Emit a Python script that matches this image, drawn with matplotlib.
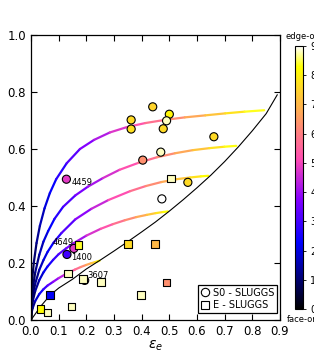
import numpy as np
import matplotlib
matplotlib.use("Agg")
import matplotlib.pyplot as plt
from matplotlib.collections import LineCollection
from matplotlib.colors import Normalize
from matplotlib.cm import ScalarMappable
from matplotlib.lines import Line2D

# inclination tracks (eps, lambda, inclination)
curve_eps = [
    [0, .002, .005, .010, .020, .032, .049, .068, .091, .129, .177, .228, .285, .347, .413, .483, .556, .630, .702, .772, .843],
    [0, .002, .006, .015, .030, .045, .062, .085, .116, .160, .206, .260, .320, .387, .455, .520, .585, .645, .699, .742],
    [0, .002, .006, .015, .030, .045, .060, .082, .110, .160, .218, .280, .358, .415, .471, .526, .575, .614, .641],
    [0, .002, .006, .015, .030, .045, .060, .080, .100, .128, .155, .200, .252, .295, .339, .380, .419, .451, .478, .495],
    [0, .002, .006, .015, .030, .045, .060, .080, .100, .120, .138, .159, .180, .199, .217, .231, .241, .248],
]
curve_lam = [
    [0, .100, .150, .200, .270, .330, .392, .445, .494, .550, .600, .632, .658, .677, .691, .702, .711, .718, .725, .731, .736],
    [0, .065, .107, .166, .229, .275, .312, .355, .397, .437, .468, .498, .527, .551, .571, .585, .596, .603, .608, .611],
    [0, .047, .080, .127, .176, .210, .239, .272, .305, .353, .390, .421, .452, .470, .484, .494, .500, .504, .506],
    [0, .038, .065, .101, .140, .167, .188, .211, .231, .252, .270, .296, .320, .336, .350, .361, .369, .375, .379, .381],
    [0, .025, .042, .066, .091, .108, .121, .134, .147, .158, .167, .177, .186, .193, .199, .203, .206, .208],
]
curve_inc = [
    [0, 3.7, 5.8, 8.2, 11.6, 14.7, 18.2, 21.5, 24.9, 29.8, 35.1, 40.0, 44.9, 50.0, 55.0, 60.0, 65.0, 69.9, 74.9, 80.0, 87.3],
    [0, 3.7, 6.5, 10.3, 14.5, 17.8, 21.0, 24.6, 28.9, 34.1, 38.9, 44.0, 49.2, 54.7, 60.0, 65.0, 69.9, 74.9, 80.0, 86.2],
    [0, 3.9, 6.7, 10.6, 15.0, 18.5, 21.4, 25.0, 29.1, 35.4, 41.7, 47.8, 54.9, 60.0, 65.0, 70.0, 75.0, 80.0, 85.1],
    [0, 4.2, 7.3, 11.5, 16.3, 20.0, 23.2, 26.9, 30.2, 34.4, 38.1, 43.9, 50.0, 55.0, 60.1, 65.0, 70.0, 74.9, 80.0, 85.3],
    [0, 5.5, 9.5, 15.1, 21.6, 26.6, 31.0, 36.3, 41.2, 45.9, 50.0, 54.9, 59.9, 64.8, 70.1, 75.0, 80.3, 84.5],
]

# edge-on line
edge_eps = [0, .035, .069, .10, .15, .20, .25, .30, .35, .40, .45, .50, .55, .60, .65, .70, .75, .80, .85, .89]
edge_lam = [0, .048, .087, .112, .143, .179, .210, .242, .275, .309, .344, .382, .422, .464, .508, .556, .608, .664, .724, .790]

# S0 galaxies
s0_eps = [.128, .362, .362, .440, .500, .490, .478, .661, .404, .469, .567, .473, .155, .130, .194]
s0_lam = [.494, .702, .670, .748, .722, .699, .671, .643, .561, .589, .483, .425, .251, .230, .139]
s0_inc = [48, 76, 77, 75, 81, 88, 76, 76, 63, 88, 76, 90, 48, 30, 48]

# E galaxies
e_eps = [.172, .134, .188, .254, .351, .069, .035, .059, .146, .398, .448, .490, .505]
e_lam = [.264, .163, .144, .134, .267, .088, .039, .027, .047, .088, .266, .131, .496]
e_inc = [84, 88, 88, 88, 76, 22, 82, 88, 88, 88, 70, 63, 88]

# labelled galaxies
names = ["4459", "1400", "3607", "4649"]
name_eps = [.128, .130, .194, .155]
name_lam = [.494, .230, .139, .251]

cmap = plt.get_cmap("gnuplot2")
norm = Normalize(0, 90)

fig = plt.figure(figsize=(3.14, 3.56), dpi=100)
ax = fig.add_axes([0.0987, 0.1011, 0.793, 0.8006])
cax = fig.add_axes([0.9395, 0.132, 0.0245, 0.739])

for ce, cl, ci in zip(curve_eps, curve_lam, curve_inc):
    pts = np.column_stack([ce, cl])
    segs = np.stack([pts[:-1], pts[1:]], axis=1)
    inc = np.array(ci, dtype=float)
    mid = 0.5 * (inc[:-1] + inc[1:])
    lc = LineCollection(segs, colors=cmap(norm(mid)), linewidths=1.6,
                        capstyle="round", joinstyle="round", zorder=2)
    ax.add_collection(lc)

ax.plot(edge_eps, edge_lam, "k-", lw=0.8, zorder=2)

ax.scatter(s0_eps, s0_lam, c=s0_inc, cmap=cmap, norm=norm, marker="o", s=34,
           edgecolors="k", linewidths=0.8, zorder=3)
ax.scatter(e_eps, e_lam, c=e_inc, cmap=cmap, norm=norm, marker="s", s=30,
           edgecolors="k", linewidths=0.8, zorder=3)

offsets = [(3.6, -2.2, "left"), (3.1, -2.4, "left"), (1.9, 3.8, "left"), (0.0, 4.0, "right")]
for n, x, y, (dx, dy, ha) in zip(names, name_eps, name_lam, offsets):
    ax.annotate(n, (x, y), xytext=(dx, dy), textcoords="offset points",
                ha=ha, va="center", fontsize=6, zorder=4)

ax.set_xlim(0, 0.9)
ax.set_ylim(0, 1.0)
ax.set_xticks(np.arange(0, 0.91, 0.1))
ax.set_xticklabels(["%.1f" % t for t in np.arange(0, 0.91, 0.1)])
ax.set_yticks(np.arange(0, 1.01, 0.2))
ax.set_yticklabels(["%.1f" % t for t in np.arange(0, 1.01, 0.2)])
ax.tick_params(direction="in", top=True, right=True, length=4, width=0.8,
               labelsize=8.5)
for s in ax.spines.values():
    s.set_linewidth(0.9)
ax.set_xlabel(r"$\epsilon_e$", fontsize=10, labelpad=0.5)
ax.set_ylabel(r"$\lambda_{Re}$", fontsize=10)

handles = [
    Line2D([], [], marker="o", ls="", mfc="white", mec="k", ms=6, mew=0.8),
    Line2D([], [], marker="s", ls="", mfc="white", mec="k", ms=6, mew=0.8),
]
leg = ax.legend(handles, ["S0 - SLUGGS", "E - SLUGGS"], loc="lower right",
                bbox_to_anchor=(0.989, 0.025), borderaxespad=0, fontsize=7,
                fancybox=False, edgecolor="k", framealpha=1,
                handlelength=0.8, handletextpad=0.4, labelspacing=0.25,
                borderpad=0.3)
leg.get_frame().set_linewidth(0.9)
leg.set_zorder(5)

cb = fig.colorbar(ScalarMappable(norm=norm, cmap=cmap), cax=cax,
                  ticks=range(0, 91, 10))
cb.ax.tick_params(labelsize=7, length=2, width=0.6)
cb.outline.set_linewidth(0.8)
cax.text(1.0, 1.02, "edge-on", transform=cax.transAxes, ha="center",
         va="bottom", fontsize=6)
cax.text(1.0, -0.024, "face-on", transform=cax.transAxes, ha="center",
         va="top", fontsize=6)

fig.savefig("out.png", dpi=100)
